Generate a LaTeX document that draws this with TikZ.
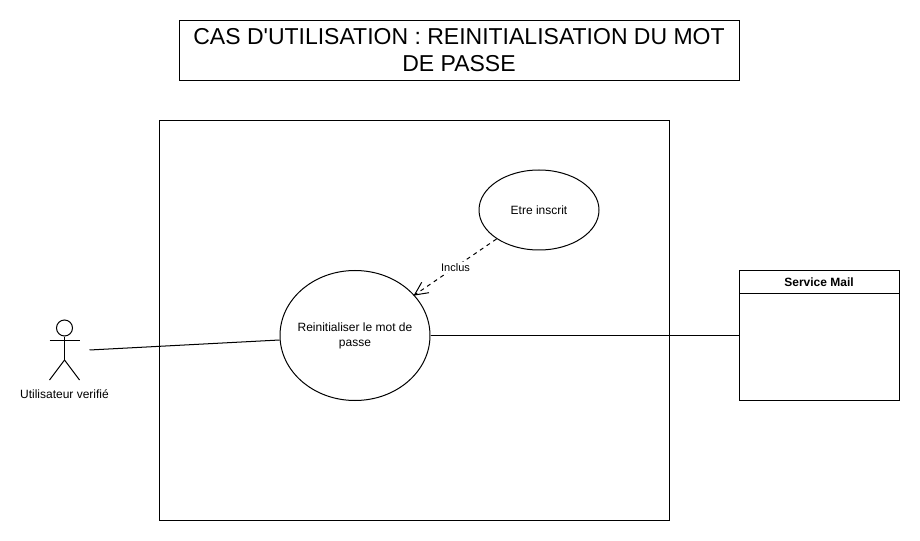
\documentclass[tikz,border=0pt]{standalone}
\usepackage{fontspec}
\setmainfont{Liberation Sans}
\usetikzlibrary{shapes.geometric}
\tikzset{
	usecase/.style={draw,ellipse,inner sep=0pt,inner xsep=-5pt,align=center,font=\fontsize{9}{11.25}\selectfont},
	box/.style={draw,rectangle,inner sep=0pt},
	small/.style={font=\fontsize{8.25}{10}\selectfont},
}

\begin{document}
\begin{tikzpicture}[x=0.75pt,y=-0.75pt,line width=0.75pt]
	\useasboundingbox (0,0) rectangle (920,541);
	\node[box,minimum width=420pt,minimum height=45pt,align=center,font=\fontsize{17.25}{20.25}\selectfont] (title) at (459,50.25) {CAS D\textquotesingle UTILISATION : REINITIALISATION DU MOT\\DE PASSE};
	\node[box,minimum width=382.5pt,minimum height=299.25pt] (system) at (414,320.5) {};
	% use cases
	\node[usecase,minimum width=112.5pt,minimum height=97.5pt] (reset) at (355,335.5) {Reinitialiser le mot de\\passe};
	\node[usecase,minimum width=90pt,minimum height=60pt] (inscrit) at (539,210) {Etre inscrit};
	% service
	\node[box,minimum width=120pt,minimum height=97.5pt] (mail) at (819,335.5) {};
	\node[box,minimum width=120pt,minimum height=17.25pt,font=\fontsize{9}{11}\selectfont\bfseries] (mailhead) at (819,282) {Service Mail};
	% actor
	\node[draw,circle,minimum size=12pt,inner sep=0pt] (head) at (64.5,328) {};
	\coordinate (hip) at (64.5,360);
	\coordinate (armL) at (49.5,340);
	\coordinate (armR) at (79.5,340);
	\coordinate (footL) at (49.5,380);
	\coordinate (footR) at (79.5,380);
	\coordinate (hand) at (89.5,350);
	\draw (head.south) -- (hip);
	\draw (armL) -- (armR);
	\draw (footL) -- (hip) -- (footR);
	\node[font=\fontsize{9}{11}\selectfont] (actor) at (64.5,394) {Utilisateur verifié};
	% links
	\draw (hand) -- (reset.west |- 0,340);
	\draw (reset.east) -- (reset.east -| mail.west);
	\coordinate (from) at (496.5,239);
	\coordinate (tip) at (414.5,295);
	\coordinate (barbA) at (421.7,282.3);
	\coordinate (barbB) at (429,292.7);
	\draw[dashed] (from) -- node[small,fill=white,inner sep=1pt,yshift=-0.5pt] (inclus) {Inclus} (tip);
	\draw (barbA) -- (tip) -- (barbB);
\end{tikzpicture}
\end{document}
